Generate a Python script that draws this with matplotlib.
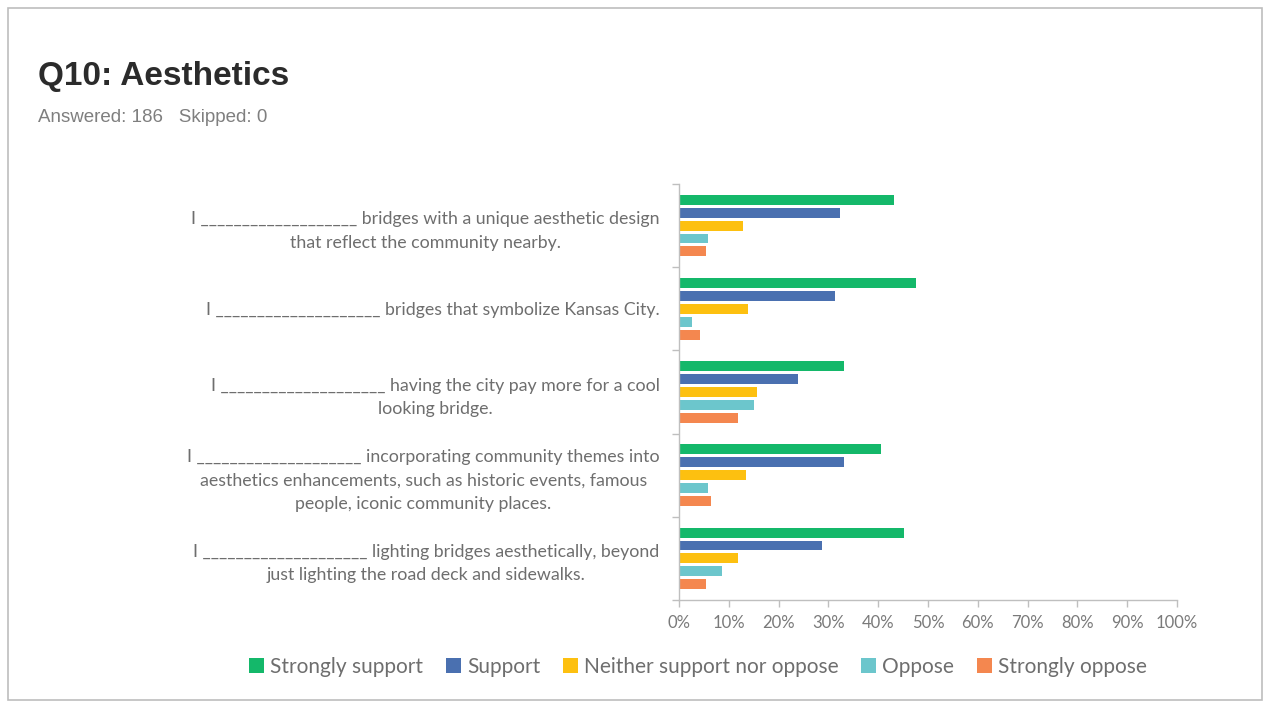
import matplotlib
matplotlib.use("Agg")
import matplotlib.pyplot as plt
from matplotlib.patches import Rectangle
import numpy as np

categories = [
    "I ___________________ bridges with a unique aesthetic design\nthat reflect the community nearby.",
    "I ____________________ bridges that symbolize Kansas City.",
    "I ____________________ having the city pay more for a cool\nlooking bridge.",
    "I ____________________ incorporating community themes into\naesthetics enhancements, such as historic events, famous\npeople, iconic community places.",
    "I ____________________ lighting bridges aesthetically, beyond\njust lighting the road deck and sidewalks.",
]
series_names = ["Strongly support", "Support", "Neither support nor oppose", "Oppose", "Strongly oppose"]
strongly_support = [43.2, 47.6, 33.1, 40.6, 45.1]
support = [32.4, 31.3, 23.8, 33.2, 28.7]
neither = [12.9, 13.9, 15.6, 13.4, 11.8]
oppose = [5.9, 2.6, 15.0, 5.9, 8.7]
strongly_oppose = [5.4, 4.3, 11.8, 6.4, 5.4]
xtick_labels = ["0%", "10%", "20%", "30%", "40%", "50%", "60%", "70%", "80%", "90%", "100%"]

colors = ["#14B86A", "#4A70B0", "#FDC010", "#6CC6CC", "#F4874F"]
series = [strongly_support, support, neither, oppose, strongly_oppose]

W, H = 1268, 705
fig = plt.figure(figsize=(W / 100, H / 100), dpi=100)
fig.patch.set_facecolor("white")

# slide border
fig.add_artist(Rectangle((8 / W, 1 - 700 / H), (1262 - 8) / W, (700 - 8) / H,
                         transform=fig.transFigure, fill=False, edgecolor="#BDBDBD", lw=1.2))

fig.text(38 / W, 1 - 76 / H, "Q10: Aesthetics", fontsize=24, fontweight="bold",
         family="Liberation Sans", color="#2B2B2B", va="center", ha="left")
fig.text(38 / W, 1 - 118 / H, "Answered: 186   Skipped: 0", fontsize=13.5,
         family="Liberation Sans", color="#7F7F7F", va="center", ha="left")

ax = fig.add_axes([679 / W, 1 - 600 / H, (1177 - 679) / W, (600 - 184) / H])
n = len(categories)
centers = np.arange(n)[::-1].astype(float)
offsets = [0.31, 0.155, 0.0, -0.155, -0.31]
for vals, name, col, off in zip(series, series_names, colors, offsets):
    ax.barh(centers + off, vals, height=0.118, color=col, label=name)

ax.set_xlim(0, 100)
ax.set_ylim(-0.5, n - 0.5)
ax.set_xticks(np.arange(0, 101, 10))
ax.set_xticklabels(xtick_labels, family="Lato", fontsize=12, color="#7A7A7A")
ax.set_yticks(centers)
ax.set_yticklabels(categories, family="Lato", fontsize=12.8, color="#6E6E6E",
                   multialignment="center", linespacing=1.58)
ax.set_yticks(np.arange(-0.5, n, 1.0), minor=True)
ax.tick_params(axis="y", which="major", length=0, pad=14)
ax.tick_params(axis="y", which="minor", length=5, color="#BFBFBF", width=1)
ax.tick_params(axis="x", which="major", length=5, color="#BFBFBF", width=1, pad=6)
for s in ["top", "right"]:
    ax.spines[s].set_visible(False)
for s in ["left", "bottom"]:
    ax.spines[s].set_color("#BFBFBF")
    ax.spines[s].set_linewidth(1)

handles, labels = ax.get_legend_handles_labels()
leg = fig.legend(handles, labels, loc="center", bbox_to_anchor=(698 / W, 1 - 667 / H),
                 ncol=5, frameon=False, handlelength=0.7, handleheight=0.7,
                 handletextpad=0.3, columnspacing=1.1,
                 prop={"family": "Lato", "size": 15})
for t in leg.get_texts():
    t.set_color("#6E6E6E")

fig.savefig("out.png", dpi=100, facecolor="white")
